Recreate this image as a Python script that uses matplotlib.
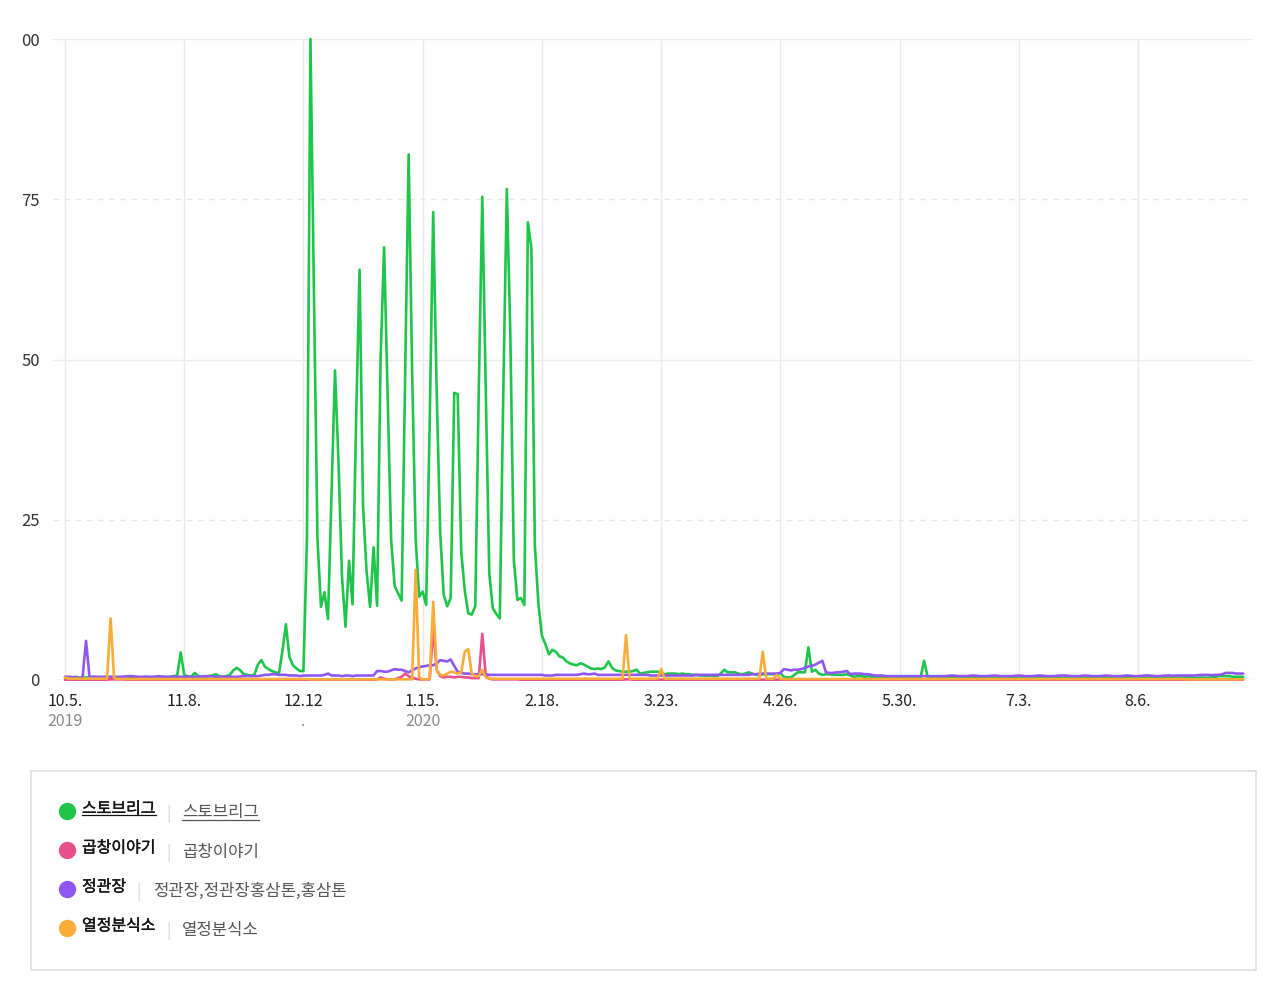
import matplotlib
matplotlib.use("Agg")
import matplotlib.pyplot as plt
import matplotlib.transforms as mtransforms
import matplotlib.patheffects as pe
from matplotlib.lines import Line2D
from matplotlib.patches import Rectangle

plt.rcParams['font.family'] = ['Noto Sans CJK KR', 'DejaVu Sans']

# ---------------- data (daily index 0 = 2019-10-05) ----------------
series_names = ["스토브리그", "곱창이야기", "정관장", "열정분식소"]
series_keywords = ["스토브리그", "곱창이야기", "정관장,정관장홍삼톤,홍삼톤", "열정분식소"]
series_colors = ["#1fc44b", "#e8508c", "#8e58f0", "#fbab38"]

green = [
    0.4, 0.3, 0.4, 0.5, 0.4, 0.3, 0.4, 0.4, 0.5, 0.4,
    0.3, 0.4, 0.4, 0.5, 0.4, 0.3, 0.4, 0.4, 0.5, 0.4,
    0.3, 0.4, 0.4, 0.5, 0.4, 0.3, 0.4, 0.4, 0.5, 0.4,
    0.5, 0.6, 0.7, 4.3, 0.8, 0.6, 0.5, 1.1, 0.6, 0.5,
    0.5, 0.6, 0.7, 0.9, 0.6, 0.5, 0.6, 0.8, 1.5, 1.9,
    1.5, 0.9, 0.8, 0.7, 0.8, 2.4, 3.1, 2.1, 1.7, 1.4,
    1.2, 1.0, 4.5, 8.7, 3.6, 2.3, 1.8, 1.4, 1.4, 22.0,
    100.0, 60.0, 22.0, 11.4, 13.7, 9.5, 29.0, 48.3, 34.0, 16.0,
    8.3, 18.6, 11.8, 40.0, 64.0, 27.0, 17.0, 11.4, 20.7, 11.6,
    50.0, 67.5, 45.0, 22.0, 14.7, 13.5, 12.4, 47.0, 82.0, 48.0,
    22.0, 13.0, 13.8, 11.7, 40.0, 73.0, 45.0, 23.0, 13.3, 11.5,
    12.8, 44.8, 44.6, 20.0, 14.0, 10.4, 10.2, 11.5, 45.0, 75.4,
    45.0, 16.6, 11.2, 10.3, 9.6, 45.0, 76.6, 54.0, 18.7, 12.5,
    12.8, 11.7, 71.4, 67.4, 20.9, 12.0, 6.9, 5.6, 4.0, 4.7,
    4.4, 3.7, 3.5, 2.9, 2.6, 2.4, 2.3, 2.6, 2.4, 2.1,
    1.8, 1.7, 1.8, 1.7, 2.0, 2.9, 1.9, 1.5, 1.4, 1.3,
    1.3, 1.3, 1.4, 1.6, 1.0, 1.1, 1.2, 1.3, 1.3, 1.3,
    1.1, 0.9, 1.0, 1.0, 1.0, 0.9, 1.0, 0.9, 0.9, 0.8,
    0.8, 0.7, 0.7, 0.6, 0.7, 0.6, 0.6, 1.0, 1.6, 1.2,
    1.2, 1.2, 1.0, 0.9, 1.0, 1.2, 1.0, 0.8, 0.8, 0.9,
    0.9, 0.9, 0.9, 0.8, 1.1, 0.5, 0.4, 0.4, 0.8, 1.2,
    1.2, 1.2, 5.1, 1.3, 1.6, 1.0, 0.8, 0.9, 0.9, 0.8,
    0.8, 0.8, 0.8, 0.9, 0.7, 0.5, 0.6, 0.6, 0.5, 0.6,
    0.5, 0.4, 0.4, 0.4, 0.4, 0.4, 0.4, 0.4, 0.4, 0.4,
    0.4, 0.4, 0.4, 0.4, 0.4, 3.0, 0.5, 0.4, 0.4, 0.4,
    0.4, 0.35, 0.35, 0.4, 0.35, 0.35, 0.4, 0.35, 0.35, 0.4,
    0.4, 0.35, 0.35, 0.4, 0.35, 0.35, 0.4, 0.35, 0.35, 0.4,
    0.4, 0.35, 0.35, 0.4, 0.35, 0.35, 0.4, 0.35, 0.35, 0.4,
    0.4, 0.35, 0.35, 0.4, 0.35, 0.35, 0.4, 0.35, 0.35, 0.4,
    0.4, 0.35, 0.35, 0.4, 0.35, 0.35, 0.4, 0.35, 0.35, 0.4,
    0.4, 0.35, 0.35, 0.4, 0.35, 0.35, 0.4, 0.35, 0.35, 0.4,
    0.4, 0.35, 0.35, 0.4, 0.35, 0.35, 0.4, 0.35, 0.35, 0.4,
    0.35, 0.4, 0.35, 0.35, 0.4, 0.35, 0.35, 0.4, 0.5, 0.6,
    0.6, 0.6, 0.6, 0.5, 0.5, 0.5, 0.5,
]

pink = [
    0.05, 0.05, 0.05, 0.05, 0.05, 0.05, 0.05, 0.05, 0.05, 0.05,
    0.05, 0.05, 0.05, 0.1, 0.1, 0.1, 0.1, 0.05, 0.05, 0.05,
    0.05, 0.05, 0.05, 0.05, 0.05, 0.05, 0.05, 0.05, 0.05, 0.05,
    0.05, 0.05, 0.05, 0.05, 0.05, 0.05, 0.05, 0.05, 0.05, 0.05,
    0.05, 0.05, 0.05, 0.05, 0.05, 0.05, 0.05, 0.05, 0.05, 0.05,
    0.05, 0.05, 0.05, 0.05, 0.05, 0.05, 0.05, 0.05, 0.05, 0.05,
    0.05, 0.05, 0.05, 0.05, 0.05, 0.05, 0.05, 0.05, 0.05, 0.05,
    0.05, 0.05, 0.05, 0.05, 0.05, 0.05, 0.05, 0.05, 0.05, 0.05,
    0.05, 0.05, 0.05, 0.05, 0.05, 0.05, 0.05, 0.05, 0.05, 0.1,
    0.4, 0.2, 0.1, 0.1, 0.1, 0.3, 0.5, 1.0, 0.6, 0.3,
    0.2, 0.1, 0.1, 0.1, 0.1, 8.0, 1.6, 0.6, 0.4, 0.5,
    0.5, 0.4, 0.5, 0.5, 0.4, 0.4, 0.3, 0.3, 0.3, 7.2,
    0.6, 0.2, 0.1, 0.1, 0.1, 0.1, 0.1, 0.1, 0.1, 0.1,
    0.05, 0.05, 0.05, 0.05, 0.05, 0.05, 0.05, 0.05, 0.05, 0.05,
    0.05, 0.05, 0.05, 0.05, 0.05, 0.05, 0.05, 0.05, 0.05, 0.05,
    0.05, 0.05, 0.05, 0.05, 0.05, 0.05, 0.05, 0.05, 0.05, 0.05,
    0.1, 0.1, 0.05, 0.05, 0.05, 0.05, 0.05, 0.05, 0.05, 0.05,
    0.05, 0.05, 0.05, 0.05, 0.05, 0.05, 0.05, 0.05, 0.05, 0.05,
    0.05, 0.05, 0.05, 0.05, 0.05, 0.05, 0.05, 0.05, 0.05, 0.05,
    0.05, 0.05, 0.05, 0.05, 0.05, 0.05, 0.05, 0.05, 0.05, 0.05,
    0.05, 0.05, 0.05, 0.05, 0.05, 0.05, 0.05, 0.05, 0.05, 0.05,
    0.05, 0.05, 0.05, 0.05, 0.05, 0.05, 0.05, 0.05, 0.05, 0.05,
    0.05, 0.05, 0.05, 0.05, 0.05, 0.05, 0.05, 0.05, 0.05, 0.05,
    0.05, 0.05, 0.05, 0.05, 0.05, 0.05, 0.05, 0.05, 0.05, 0.05,
    0.05, 0.05, 0.05, 0.05, 0.05, 0.05, 0.05, 0.05, 0.05, 0.05,
    0.05, 0.05, 0.05, 0.05, 0.05, 0.05, 0.05, 0.05, 0.05, 0.05,
    0.05, 0.05, 0.05, 0.05, 0.05, 0.05, 0.05, 0.05, 0.05, 0.05,
    0.05, 0.05, 0.05, 0.05, 0.05, 0.05, 0.05, 0.05, 0.05, 0.05,
    0.05, 0.05, 0.05, 0.05, 0.05, 0.05, 0.05, 0.05, 0.05, 0.05,
    0.05, 0.05, 0.05, 0.05, 0.05, 0.05, 0.05, 0.05, 0.05, 0.05,
    0.05, 0.05, 0.05, 0.05, 0.05, 0.05, 0.05, 0.05, 0.05, 0.05,
    0.05, 0.05, 0.05, 0.05, 0.05, 0.05, 0.05, 0.05, 0.05, 0.05,
    0.05, 0.05, 0.05, 0.05, 0.05, 0.05, 0.05, 0.05, 0.05, 0.05,
    0.05, 0.05, 0.05, 0.05, 0.05, 0.05, 0.05,
]

purple = [
    0.5, 0.5, 0.45, 0.4, 0.35, 0.35, 6.1, 0.4, 0.5, 0.5,
    0.5, 0.5, 0.5, 0.5, 0.5, 0.5, 0.5, 0.55, 0.6, 0.6,
    0.55, 0.5, 0.5, 0.5, 0.5, 0.5, 0.55, 0.6, 0.5, 0.5,
    0.5, 0.5, 0.5, 0.5, 0.5, 0.5, 0.5, 0.5, 0.5, 0.55,
    0.6, 0.6, 0.55, 0.5, 0.5, 0.5, 0.5, 0.5, 0.5, 0.5,
    0.55, 0.6, 0.6, 0.6, 0.6, 0.6, 0.7, 0.8, 0.8, 0.9,
    0.9, 0.8, 0.8, 0.8, 0.7, 0.7, 0.7, 0.6, 0.7, 0.7,
    0.7, 0.7, 0.7, 0.7, 0.8, 1.0, 0.7, 0.7, 0.7, 0.6,
    0.7, 0.7, 0.6, 0.7, 0.7, 0.7, 0.7, 0.7, 0.7, 1.4,
    1.4, 1.3, 1.3, 1.5, 1.7, 1.6, 1.6, 1.4, 1.2, 1.5,
    1.8, 2.0, 2.1, 2.2, 2.3, 2.3, 2.6, 3.1, 3.0, 2.9,
    3.2, 2.2, 1.3, 1.1, 1.0, 1.0, 0.9, 0.9, 0.9, 0.9,
    0.9, 0.8, 0.8, 0.8, 0.8, 0.8, 0.8, 0.8, 0.8, 0.8,
    0.8, 0.8, 0.8, 0.8, 0.8, 0.8, 0.8, 0.7, 0.7, 0.7,
    0.8, 0.8, 0.8, 0.8, 0.8, 0.8, 0.8, 0.9, 1.0, 0.9,
    0.9, 1.0, 0.8, 0.8, 0.8, 0.8, 0.8, 0.8, 0.8, 0.8,
    0.8, 0.8, 0.8, 0.8, 0.8, 0.8, 0.8, 0.7, 0.7, 0.7,
    0.7, 0.7, 0.7, 0.7, 0.7, 0.7, 0.7, 0.7, 0.7, 0.7,
    0.8, 0.8, 0.8, 0.8, 0.8, 0.8, 0.8, 0.8, 0.8, 0.8,
    0.8, 0.8, 0.8, 0.8, 0.8, 0.8, 0.9, 0.9, 1.0, 1.0,
    1.0, 1.0, 1.0, 1.0, 1.1, 1.7, 1.6, 1.5, 1.6, 1.6,
    1.7, 1.9, 2.1, 2.2, 2.4, 2.7, 3.0, 1.2, 1.1, 1.1,
    1.2, 1.2, 1.3, 1.4, 0.9, 1.0, 1.0, 1.0, 0.9, 0.9,
    0.8, 0.7, 0.7, 0.7, 0.6, 0.6, 0.6, 0.6, 0.6, 0.6,
    0.6, 0.6, 0.6, 0.6, 0.6, 0.6, 0.6, 0.6, 0.6, 0.6,
    0.6, 0.6, 0.65, 0.7, 0.65, 0.6, 0.6, 0.6, 0.65, 0.7,
    0.65, 0.6, 0.6, 0.6, 0.65, 0.7, 0.65, 0.6, 0.6, 0.6,
    0.6, 0.65, 0.7, 0.65, 0.6, 0.6, 0.6, 0.65, 0.7, 0.65,
    0.6, 0.6, 0.6, 0.65, 0.7, 0.7, 0.65, 0.6, 0.6, 0.6,
    0.65, 0.7, 0.65, 0.6, 0.6, 0.6, 0.65, 0.7, 0.65, 0.6,
    0.6, 0.6, 0.65, 0.7, 0.65, 0.6, 0.6, 0.65, 0.7, 0.7,
    0.65, 0.6, 0.6, 0.65, 0.7, 0.7, 0.65, 0.7, 0.7, 0.7,
    0.7, 0.7, 0.7, 0.75, 0.8, 0.8, 0.8, 0.75, 0.8, 0.8,
    0.9, 1.1, 1.1, 1.1, 1.0, 1.0, 1.0,
]

orange = [
    0.4, 0.2, 0.2, 0.2, 0.2, 0.2, 0.2, 0.2, 0.2, 0.2,
    0.2, 0.2, 0.2, 9.6, 0.3, 0.15, 0.15, 0.15, 0.15, 0.15,
    0.15, 0.15, 0.15, 0.15, 0.15, 0.15, 0.15, 0.15, 0.15, 0.15,
    0.15, 0.15, 0.15, 0.15, 0.15, 0.15, 0.15, 0.15, 0.15, 0.15,
    0.15, 0.15, 0.15, 0.15, 0.15, 0.15, 0.15, 0.15, 0.15, 0.15,
    0.15, 0.15, 0.15, 0.15, 0.15, 0.15, 0.15, 0.15, 0.15, 0.15,
    0.15, 0.15, 0.15, 0.15, 0.15, 0.15, 0.15, 0.15, 0.15, 0.15,
    0.1, 0.1, 0.1, 0.1, 0.1, 0.1, 0.1, 0.1, 0.1, 0.1,
    0.1, 0.1, 0.1, 0.1, 0.1, 0.1, 0.1, 0.1, 0.1, 0.1,
    0.1, 0.1, 0.1, 0.1, 0.1, 0.1, 0.1, 0.1, 0.1, 0.1,
    17.2, 0.4, 0.1, 0.1, 0.2, 12.2, 1.6, 0.8, 0.7, 1.0,
    1.3, 1.2, 1.0, 1.2, 4.4, 4.8, 1.0, 0.6, 0.6, 1.6,
    0.4, 0.2, 0.2, 0.2, 0.2, 0.2, 0.2, 0.2, 0.2, 0.2,
    0.2, 0.2, 0.2, 0.2, 0.2, 0.2, 0.2, 0.2, 0.2, 0.2,
    0.2, 0.2, 0.2, 0.2, 0.2, 0.2, 0.2, 0.2, 0.2, 0.2,
    0.2, 0.2, 0.2, 0.2, 0.2, 0.2, 0.2, 0.2, 0.2, 0.2,
    7.0, 0.2, 0.2, 0.2, 0.2, 0.2, 0.2, 0.2, 0.2, 0.2,
    1.7, 0.2, 0.2, 0.2, 0.2, 0.2, 0.2, 0.2, 0.2, 0.2,
    0.2, 0.2, 0.2, 0.2, 0.2, 0.2, 0.2, 0.2, 0.2, 0.2,
    0.2, 0.2, 0.2, 0.2, 0.2, 0.2, 0.2, 0.2, 0.2, 4.4,
    0.2, 0.2, 0.2, 0.8, 0.2, 0.15, 0.15, 0.15, 0.15, 0.15,
    0.15, 0.15, 0.15, 0.15, 0.15, 0.15, 0.15, 0.15, 0.15, 0.15,
    0.15, 0.15, 0.15, 0.15, 0.15, 0.15, 0.15, 0.15, 0.15, 0.15,
    0.15, 0.15, 0.15, 0.15, 0.15, 0.15, 0.15, 0.15, 0.15, 0.15,
    0.15, 0.15, 0.15, 0.15, 0.15, 0.15, 0.15, 0.15, 0.15, 0.15,
    0.15, 0.15, 0.15, 0.15, 0.15, 0.15, 0.15, 0.15, 0.15, 0.15,
    0.15, 0.15, 0.15, 0.15, 0.15, 0.15, 0.15, 0.15, 0.15, 0.15,
    0.15, 0.15, 0.15, 0.15, 0.15, 0.15, 0.15, 0.15, 0.15, 0.15,
    0.15, 0.15, 0.15, 0.15, 0.15, 0.15, 0.15, 0.15, 0.15, 0.15,
    0.15, 0.15, 0.15, 0.15, 0.15, 0.15, 0.15, 0.15, 0.15, 0.15,
    0.15, 0.15, 0.15, 0.15, 0.15, 0.15, 0.15, 0.15, 0.15, 0.15,
    0.15, 0.15, 0.15, 0.15, 0.15, 0.15, 0.15, 0.15, 0.15, 0.15,
    0.1, 0.1, 0.1, 0.1, 0.1, 0.1, 0.1, 0.1, 0.1, 0.1,
    0.1, 0.1, 0.1, 0.1, 0.1, 0.1, 0.1,
]

x_tick_days = [0, 34, 68, 102, 136, 170, 204, 238, 272, 306]
x_tick_labels = ["10.5.", "11.8.", "12.12", "1.15.", "2.18.", "3.23.", "4.26.", "5.30.", "7.3.", "8.6."]
x_sub_labels = {0: "2019", 68: ".", 102: "2020"}
y_ticks = [0, 25, 50, 75, 100]
y_tick_labels = ["0", "25", "50", "75", "00"]

# ---------------- figure ----------------
W, H = 1280, 984
fig = plt.figure(figsize=(W / 100, H / 100), dpi=100)
fig.patch.set_facecolor("white")

def fx(px):
    return px / W

def fy(py):
    return 1 - py / H

PX_PER_DAY = 3.5065
ax = fig.add_axes([fx(53), fy(680), (1253 - 53) / W, (680 - 39) / H])
ax.set_xlim(-12 / PX_PER_DAY, 1188 / PX_PER_DAY)
ax.set_ylim(0, 100)
for s in ax.spines.values():
    s.set_visible(False)

# grid
for d in x_tick_days:
    ax.axvline(d, color="#e9e9e9", lw=1.0, zorder=0)
for v in y_ticks:
    if v in (25, 75):
        ax.axhline(v, color="#e6e6e6", lw=1.0, ls=(0, (4, 4)), zorder=0)
    elif v == 0:
        ax.axhline(v, color="#d9d9d9", lw=1.0, zorder=0)
    else:
        ax.axhline(v, color="#ebebeb", lw=1.0, zorder=0)

days = list(range(len(green)))
for vals, col in zip([green, pink, purple, orange], series_colors):
    ax.plot(days, vals, color=col, lw=1.9, solid_joinstyle="round",
            solid_capstyle="round", clip_on=False, zorder=3)

ax.set_yticks(y_ticks)
ax.set_yticklabels(y_tick_labels, fontsize=12, color="#333333")
ax.tick_params(axis="y", length=0, pad=9.5)
ax.set_xticks([])

trans = mtransforms.blended_transform_factory(ax.transData, fig.transFigure)
for d, lab in zip(x_tick_days, x_tick_labels):
    ax.text(d, fy(701), lab, transform=trans, ha="center", va="center",
            fontsize=11.5, color="#222222")
    if d in x_sub_labels:
        ax.text(d, fy(721), x_sub_labels[d], transform=trans, ha="center",
                va="center", fontsize=11.5, color="#8a8a8a")

# ---------------- legend box ----------------
fig.add_artist(Rectangle((fx(31), fy(970)), (1256 - 31) / W, (970 - 771) / H,
                         transform=fig.transFigure, facecolor="white",
                         edgecolor="#dddddd", lw=1.2))
row_y = [810, 849, 888, 927]
sep_x = [168, 168, 139, 168]
medium = [pe.withStroke(linewidth=0.25, foreground="#111111")]
for i, (name, kw, col, ry, sx) in enumerate(zip(series_names, series_keywords,
                                                 series_colors, row_y, sep_x)):
    fig.add_artist(Line2D([fx(67)], [fy(ry + 1)], marker="o", markersize=11.5,
                          markerfacecolor=col, markeredgecolor=col,
                          transform=fig.transFigure))
    t1 = fig.text(fx(82), fy(ry - 1), name, fontsize=11.5, color="#111111",
                  ha="left", va="center", path_effects=medium)
    fig.text(fx(sx), fy(ry + 4), "|", fontsize=11, color="#d0d0d0",
             ha="center", va="center")
    t2 = fig.text(fx(sx + 14), fy(ry + 3), kw, fontsize=12, color="#555555",
                  ha="left", va="center")
    if i == 0:
        # hover underline on the first legend row
        fig.canvas.draw()
        r = fig.canvas.get_renderer()
        for t, uy, c in ((t1, ry + 5, "#111111"), (t2, ry + 10, "#555555")):
            bb = t.get_window_extent(renderer=r)
            fig.add_artist(Line2D([bb.x0 / W, bb.x1 / W], [fy(uy), fy(uy)],
                                  color=c, lw=0.9, transform=fig.transFigure))

fig.savefig("out.png", dpi=100, facecolor="white")
